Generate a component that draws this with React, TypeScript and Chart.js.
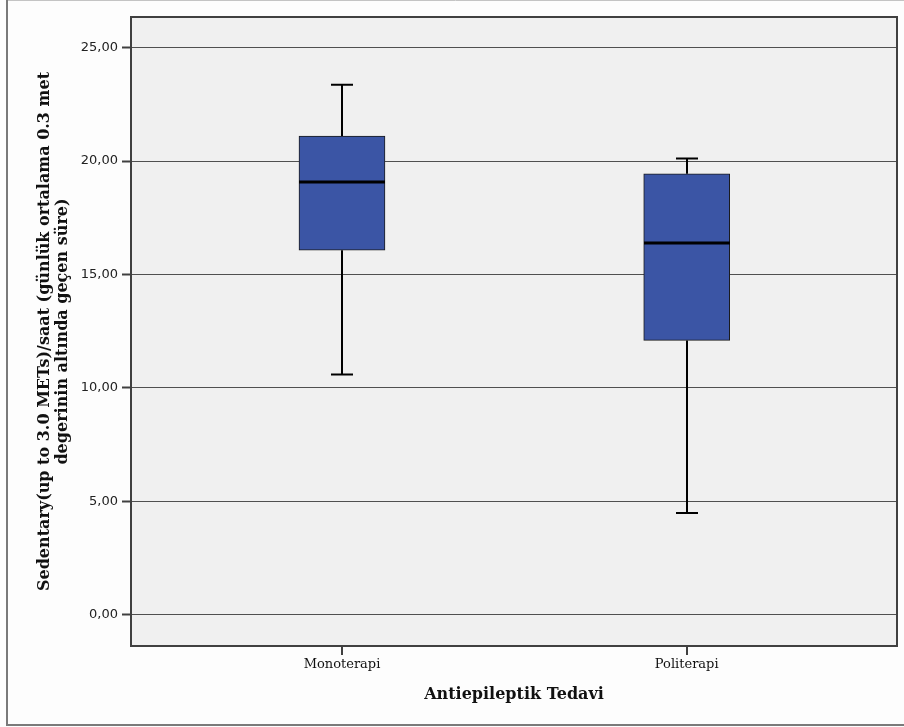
import React, { useEffect, useRef } from "react";
import { Chart, registerables } from "chart.js";

Chart.register(...registerables);

const categories = ["Monoterapi", "Politerapi"];
const whiskerLow = [10.59, 4.48];
const q1 = [16.07, 12.09];
const median = [19.08, 16.38];
const q3 = [21.1, 19.44];
const whiskerHigh = [23.36, 20.11];
const yTicks = [0, 5, 10, 15, 20, 25];
const xTitle = "Antiepileptik Tedavi";
const yTitle = [
  "Sedentary(up to 3.0 METs)/saat (günlük ortalama 0.3 met",
  "degerinin altında geçen süre)",
];

const W = 904;
const H = 727;

const framePlugin = {
  id: "frame",
  beforeDraw(chart: any) {
    const ctx = chart.ctx;
    ctx.save();
    ctx.fillStyle = "#fdfdfd";
    ctx.fillRect(0, 0, chart.width, chart.height);
    ctx.strokeStyle = "#c4c4c4";
    ctx.lineWidth = 1;
    ctx.beginPath();
    ctx.moveTo(7, 0.5);
    ctx.lineTo(chart.width, 0.5);
    ctx.stroke();
    ctx.strokeStyle = "#7a7a7a";
    ctx.lineWidth = 2;
    ctx.beginPath();
    ctx.moveTo(7, 0);
    ctx.lineTo(7, 725);
    ctx.lineTo(chart.width, 725);
    ctx.stroke();
    const a = chart.chartArea;
    ctx.fillStyle = "#f0f0f0";
    ctx.fillRect(a.left, a.top, a.right - a.left, a.bottom - a.top);
    ctx.restore();
  },
  beforeDatasetsDraw(chart: any) {
    const ctx = chart.ctx;
    const a = chart.chartArea;
    ctx.save();
    ctx.strokeStyle = "#404040";
    ctx.lineWidth = 2;
    ctx.strokeRect(a.left, a.top, a.right - a.left, a.bottom - a.top);
    ctx.restore();
  },
  afterDatasetsDraw(chart: any) {
    const ctx = chart.ctx;
    const xs = chart.scales.x;
    const ys = chart.scales.y;
    ctx.save();
    ctx.strokeStyle = "#000";
    ctx.lineCap = "butt";
    for (let i = 0; i < categories.length; i++) {
      const x = Math.round(xs.getPixelForValue(i));
      const capHalf = 11;
      const boxHalf = 43;
      ctx.lineWidth = 2;
      ctx.beginPath();
      ctx.moveTo(x, ys.getPixelForValue(whiskerHigh[i]));
      ctx.lineTo(x, ys.getPixelForValue(q3[i]));
      ctx.moveTo(x, ys.getPixelForValue(q1[i]));
      ctx.lineTo(x, ys.getPixelForValue(whiskerLow[i]));
      ctx.moveTo(x - capHalf, ys.getPixelForValue(whiskerHigh[i]));
      ctx.lineTo(x + capHalf, ys.getPixelForValue(whiskerHigh[i]));
      ctx.moveTo(x - capHalf, ys.getPixelForValue(whiskerLow[i]));
      ctx.lineTo(x + capHalf, ys.getPixelForValue(whiskerLow[i]));
      ctx.stroke();
      ctx.lineWidth = 3;
      ctx.beginPath();
      ctx.moveTo(x - boxHalf, ys.getPixelForValue(median[i]));
      ctx.lineTo(x + boxHalf, ys.getPixelForValue(median[i]));
      ctx.stroke();
    }
    ctx.restore();
  },
};

export default function App() {
  const ref = useRef<HTMLCanvasElement>(null);
  useEffect(() => {
    document.body.style.margin = "0";
    const canvas = ref.current!;
    const chart = new Chart(canvas, {
      type: "bar",
      data: {
        datasets: [
          {
            data: categories.map((_, i) => ({ x: i, y: [q1[i], q3[i]] })) as any,
            backgroundColor: "#3b55a5",
            borderColor: "#1a1a1a",
            borderWidth: 1,
            borderSkipped: false,
            barThickness: 86,
          },
        ],
      },
      options: {
        animation: false,
        responsive: false,
        events: [],
        layout: { padding: { left: 0, top: 17, right: 7, bottom: 0 } },
        plugins: {
          legend: { display: false },
          tooltip: { enabled: false },
        },
        scales: {
          x: {
            type: "linear",
            offset: false,
            min: -0.612,
            max: 1.61,
            afterBuildTicks: (s: any) => {
              s.ticks = categories.map((_, i) => ({ value: i }));
            },
            afterFit: (s: any) => {
              s.height = 81;
            },
            ticks: {
              callback: (v: any) => categories[Number(v)] ?? "",
              color: "#111",
              font: { family: "DejaVu Serif", size: 13 },
              padding: 2,
              maxRotation: 0,
              autoSkip: false,
            },
            grid: {
              offset: false,
              drawOnChartArea: false,
              drawTicks: true,
              tickLength: 9,
              tickColor: "#404040",
              lineWidth: 2,
            },
            border: { display: false },
            title: {
              display: true,
              text: xTitle,
              color: "#111",
              font: { family: "DejaVu Serif", size: 16, weight: "bold" },
              padding: { top: 0, bottom: 23 },
            },
          },
          y: {
            type: "linear",
            min: -1.385,
            max: 26.35,
            afterBuildTicks: (s: any) => {
              s.ticks = yTicks.map((v) => ({ value: v }));
            },
            afterFit: (s: any) => {
              s.width = 131;
            },
            ticks: {
              callback: (v: any) => Number(v).toFixed(2).replace(".", ","),
              color: "#222",
              font: { family: "DejaVu Sans", size: 13 },
              padding: 4,
            },
            grid: {
              color: "#505050",
              lineWidth: 1,
              drawTicks: true,
              tickLength: 9,
              tickColor: "#404040",
              tickWidth: 2,
            },
            border: { display: false },
            title: {
              display: true,
              text: yTitle,
              color: "#111",
              font: { family: "DejaVu Serif", size: 16, weight: "bold", lineHeight: 1.125 },
              padding: { top: 36, bottom: 0 },
            },
          },
        },
      },
      plugins: [framePlugin],
    });
    return () => chart.destroy();
  }, []);
  return (
    <div style={{ width: W, height: H, position: "relative" }}>
      <canvas ref={ref} width={W} height={H} style={{ display: "block", width: W, height: H }} />
    </div>
  );
}
